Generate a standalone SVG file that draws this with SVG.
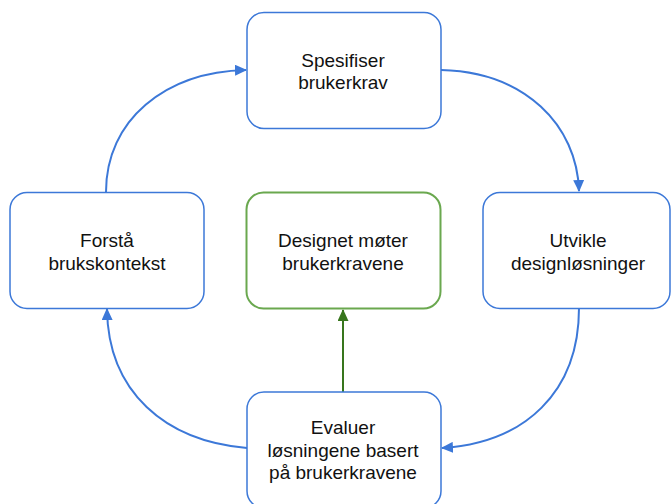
<svg xmlns="http://www.w3.org/2000/svg" width="671" height="504" viewBox="0 0 671 504">
<defs>
<style>
.box{fill:#fff;stroke:#3c78d8;stroke-width:1.5}
.gbox{fill:#fff;stroke:#6aa84f;stroke-width:2}
.t{font-family:"Liberation Sans",Arial,sans-serif;font-size:19px;fill:#111;text-anchor:middle}
.c{fill:none;stroke:#3c78d8;stroke-width:2}
.g{fill:none;stroke:#38761d;stroke-width:2}
</style>
<marker id="ab" markerWidth="12" markerHeight="11" refX="11" refY="5.5" orient="auto" markerUnits="userSpaceOnUse" viewBox="0 0 12 11"><path d="M0,0 L12,5.5 L0,11 z" fill="#3c78d8"/></marker>
<marker id="ag" markerWidth="12" markerHeight="11" refX="11" refY="5.5" orient="auto" markerUnits="userSpaceOnUse" viewBox="0 0 12 11"><path d="M0,0 L12,5.5 L0,11 z" fill="#38761d"/></marker>
</defs>
<g id="connectors">
<path class="c" d="M441,70 C525,72 577,125 579,191" marker-end="url(#ab)"/>
<path class="c" d="M579,308 C579,392 525,443 442,448" marker-end="url(#ab)"/>
<path class="c" d="M247,448 C165,441 108,392 107,309" marker-end="url(#ab)"/>
<path class="c" d="M106,192 C106,120 165,72 246,70" marker-end="url(#ab)"/>
<path class="g" d="M343,392 L343,310" marker-end="url(#ag)"/>
</g>
<g id="spesifiser">
<rect class="box" x="247" y="12.5" width="194" height="116" rx="17"/>
<text class="t" x="343" y="67">Spesifiser</text>
<text class="t" x="343" y="89">brukerkrav</text>
</g>
<g id="forsta">
<rect class="box" x="10" y="192.5" width="194" height="116" rx="17"/>
<text class="t" x="107" y="247">Forstå</text>
<text class="t" x="107" y="270">brukskontekst</text>
</g>
<g id="designet">
<rect class="gbox" x="246.5" y="192.5" width="194" height="116" rx="17"/>
<text class="t" x="343" y="247">Designet møter</text>
<text class="t" x="343" y="270">brukerkravene</text>
</g>
<g id="utvikle">
<rect class="box" x="483" y="192.5" width="187" height="116" rx="17"/>
<text class="t" x="578" y="247">Utvikle</text>
<text class="t" x="578" y="270">designløsninger</text>
</g>
<g id="evaluer">
<rect class="box" x="247" y="392" width="194" height="116" rx="17"/>
<text class="t" x="343" y="434">Evaluer</text>
<text class="t" x="343" y="457">løsningene basert</text>
<text class="t" x="343" y="479">på brukerkravene</text>
</g>
</svg>
